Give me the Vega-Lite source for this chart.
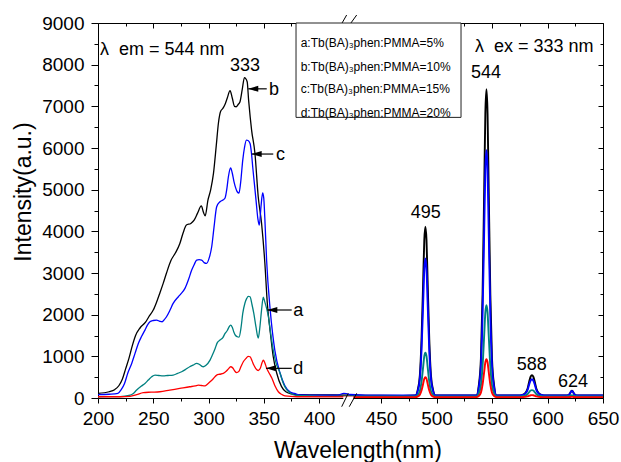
{
  "$schema": "https://vega.github.io/schema/vega-lite/v6.json",
  "width": 505,
  "height": 375,
  "autosize": {"type": "none"},
  "padding": {"left": 98, "top": 23, "right": 18, "bottom": 64},
  "background": "white",
  "config": {
    "view": {"stroke": null},
    "font": "Liberation Sans, DejaVu Sans, sans-serif",
    "axis": {"domainColor": "black", "tickColor": "black", "labelColor": "black", "titleColor": "black", "grid": false, "labelFont": "Liberation Sans", "titleFont": "Liberation Sans", "labelFontSize": 19, "titleFontSize": 23, "titleFontWeight": "normal", "domainWidth": 1, "tickWidth": 1, "labelFlush": false, "labelOverlap": false, "format": "d"}
  },
  "datasets": {
    "left": [
      {"s":"b","x":200,"y":110},{"s":"b","x":210,"y":150},{"s":"b","x":215,"y":200},{"s":"b","x":219,"y":300},{"s":"b","x":222,"y":450},{"s":"b","x":225,"y":700},{"s":"b","x":228,"y":950},{"s":"b","x":231,"y":1250},{"s":"b","x":234,"y":1500},{"s":"b","x":238,"y":1680},{"s":"b","x":243,"y":1820},{"s":"b","x":246,"y":1950},{"s":"b","x":250,"y":2110},{"s":"b","x":253,"y":2300},{"s":"b","x":256,"y":2520},{"s":"b","x":259,"y":2750},{"s":"b","x":262,"y":3000},{"s":"b","x":266,"y":3300},{"s":"b","x":270,"y":3480},{"s":"b","x":274,"y":3700},{"s":"b","x":277,"y":3960},{"s":"b","x":280,"y":4150},{"s":"b","x":284,"y":4190},{"s":"b","x":287,"y":4270},{"s":"b","x":290,"y":4430},{"s":"b","x":293.5,"y":4610},{"s":"b","x":295.5,"y":4450},{"s":"b","x":297,"y":4370},{"s":"b","x":299.5,"y":4750},{"s":"b","x":302,"y":5000},{"s":"b","x":304.5,"y":5390},{"s":"b","x":307,"y":6050},{"s":"b","x":309,"y":6600},{"s":"b","x":311,"y":6880},{"s":"b","x":313,"y":6950},{"s":"b","x":315,"y":7050},{"s":"b","x":317,"y":7200},{"s":"b","x":319.5,"y":7375},{"s":"b","x":321.5,"y":7200},{"s":"b","x":323.5,"y":7000},{"s":"b","x":325,"y":6990},{"s":"b","x":327,"y":7050},{"s":"b","x":328.5,"y":7110},{"s":"b","x":330.5,"y":7400},{"s":"b","x":332.5,"y":7690},{"s":"b","x":335,"y":7590},{"s":"b","x":336.3,"y":7150},{"s":"b","x":337.7,"y":6750},{"s":"b","x":339,"y":6430},{"s":"b","x":342,"y":5880},{"s":"b","x":345,"y":4830},{"s":"b","x":348,"y":4200},{"s":"b","x":351,"y":3240},{"s":"b","x":353.2,"y":2280},{"s":"b","x":355.7,"y":1630},{"s":"b","x":358.6,"y":990},{"s":"b","x":361.7,"y":600},{"s":"b","x":366,"y":280},{"s":"b","x":370,"y":150},{"s":"b","x":375,"y":100},{"s":"b","x":380,"y":80},{"s":"b","x":400,"y":75},{"s":"b","x":425,"y":70},
      {"s":"c","x":200,"y":80},{"s":"c","x":210,"y":90},{"s":"c","x":218,"y":110},{"s":"c","x":221,"y":200},{"s":"c","x":224,"y":350},{"s":"c","x":227,"y":600},{"s":"c","x":230.5,"y":830},{"s":"c","x":233.5,"y":1070},{"s":"c","x":236.5,"y":1310},{"s":"c","x":239.5,"y":1480},{"s":"c","x":242.5,"y":1630},{"s":"c","x":245,"y":1760},{"s":"c","x":247,"y":1830},{"s":"c","x":250,"y":1860},{"s":"c","x":253,"y":1870},{"s":"c","x":256,"y":1840},{"s":"c","x":258,"y":1830},{"s":"c","x":260,"y":1880},{"s":"c","x":262,"y":1950},{"s":"c","x":265,"y":2100},{"s":"c","x":268,"y":2270},{"s":"c","x":272.7,"y":2430},{"s":"c","x":275,"y":2500},{"s":"c","x":278.7,"y":2630},{"s":"c","x":282,"y":2850},{"s":"c","x":284.8,"y":3070},{"s":"c","x":287,"y":3200},{"s":"c","x":289.3,"y":3310},{"s":"c","x":291.5,"y":3320},{"s":"c","x":293.8,"y":3310},{"s":"c","x":296,"y":3250},{"s":"c","x":298.3,"y":3230},{"s":"c","x":300.5,"y":3350},{"s":"c","x":302.9,"y":3630},{"s":"c","x":305,"y":4100},{"s":"c","x":307.4,"y":4590},{"s":"c","x":310.4,"y":4710},{"s":"c","x":313,"y":4750},{"s":"c","x":315,"y":4800},{"s":"c","x":316.5,"y":5000},{"s":"c","x":318,"y":5310},{"s":"c","x":320,"y":5520},{"s":"c","x":321.5,"y":5400},{"s":"c","x":323,"y":5200},{"s":"c","x":324.5,"y":5050},{"s":"c","x":326,"y":4950},{"s":"c","x":327.6,"y":4920},{"s":"c","x":329,"y":5150},{"s":"c","x":331,"y":5710},{"s":"c","x":332.5,"y":6000},{"s":"c","x":334.3,"y":6190},{"s":"c","x":335.8,"y":6180},{"s":"c","x":337.6,"y":6110},{"s":"c","x":339,"y":5850},{"s":"c","x":340,"y":5550},{"s":"c","x":341.5,"y":5150},{"s":"c","x":343,"y":4750},{"s":"c","x":344.7,"y":4300},{"s":"c","x":346,"y":4150},{"s":"c","x":347.5,"y":4590},{"s":"c","x":349,"y":4920},{"s":"c","x":350,"y":4800},{"s":"c","x":351,"y":4300},{"s":"c","x":352.6,"y":3300},{"s":"c","x":355.7,"y":2150},{"s":"c","x":358,"y":1550},{"s":"c","x":360,"y":1150},{"s":"c","x":364.7,"y":600},{"s":"c","x":369,"y":300},{"s":"c","x":374,"y":140},{"s":"c","x":378,"y":110},{"s":"c","x":382,"y":75},{"s":"c","x":400,"y":70},{"s":"c","x":415,"y":70},{"s":"c","x":420,"y":110},{"s":"c","x":425,"y":80},
      {"s":"a","x":200,"y":30},{"s":"a","x":220,"y":35},{"s":"a","x":228,"y":60},{"s":"a","x":232,"y":110},{"s":"a","x":235,"y":190},{"s":"a","x":239,"y":280},{"s":"a","x":242.5,"y":350},{"s":"a","x":245.5,"y":430},{"s":"a","x":248.6,"y":510},{"s":"a","x":251.6,"y":550},{"s":"a","x":255,"y":540},{"s":"a","x":259,"y":530},{"s":"a","x":263,"y":540},{"s":"a","x":268,"y":550},{"s":"a","x":272,"y":590},{"s":"a","x":275.7,"y":630},{"s":"a","x":279,"y":680},{"s":"a","x":283,"y":750},{"s":"a","x":286,"y":790},{"s":"a","x":289.3,"y":830},{"s":"a","x":291.5,"y":810},{"s":"a","x":293.5,"y":770},{"s":"a","x":295.3,"y":750},{"s":"a","x":297.5,"y":780},{"s":"a","x":301.4,"y":910},{"s":"a","x":303.5,"y":1030},{"s":"a","x":306,"y":1190},{"s":"a","x":308,"y":1330},{"s":"a","x":310.4,"y":1390},{"s":"a","x":313,"y":1450},{"s":"a","x":315,"y":1550},{"s":"a","x":317,"y":1620},{"s":"a","x":318.5,"y":1700},{"s":"a","x":320,"y":1750},{"s":"a","x":321.5,"y":1700},{"s":"a","x":323,"y":1580},{"s":"a","x":324.5,"y":1500},{"s":"a","x":326,"y":1470},{"s":"a","x":327.6,"y":1460},{"s":"a","x":329.5,"y":1700},{"s":"a","x":331,"y":2030},{"s":"a","x":333,"y":2280},{"s":"a","x":334.6,"y":2390},{"s":"a","x":336,"y":2440},{"s":"a","x":337.6,"y":2430},{"s":"a","x":339.3,"y":2250},{"s":"a","x":341,"y":2030},{"s":"a","x":343,"y":1700},{"s":"a","x":345,"y":1440},{"s":"a","x":346.5,"y":1700},{"s":"a","x":348,"y":2110},{"s":"a","x":349.6,"y":2420},{"s":"a","x":351,"y":2300},{"s":"a","x":352.6,"y":2150},{"s":"a","x":354.2,"y":1950},{"s":"a","x":356,"y":1600},{"s":"a","x":358.6,"y":1150},{"s":"a","x":361,"y":850},{"s":"a","x":364.7,"y":600},{"s":"a","x":368,"y":330},{"s":"a","x":373.8,"y":120},{"s":"a","x":380,"y":60},{"s":"a","x":400,"y":40},{"s":"a","x":425,"y":40},
      {"s":"d","x":200,"y":30},{"s":"d","x":220,"y":30},{"s":"d","x":229,"y":40},{"s":"d","x":235,"y":80},{"s":"d","x":241,"y":130},{"s":"d","x":248,"y":140},{"s":"d","x":256,"y":150},{"s":"d","x":265,"y":190},{"s":"d","x":274,"y":230},{"s":"d","x":283,"y":270},{"s":"d","x":288,"y":290},{"s":"d","x":290.8,"y":310},{"s":"d","x":293.5,"y":300},{"s":"d","x":296.8,"y":290},{"s":"d","x":299,"y":330},{"s":"d","x":301.4,"y":390},{"s":"d","x":304.5,"y":470},{"s":"d","x":307.4,"y":550},{"s":"d","x":310,"y":570},{"s":"d","x":313.4,"y":590},{"s":"d","x":316,"y":640},{"s":"d","x":318,"y":700},{"s":"d","x":320,"y":750},{"s":"d","x":322,"y":720},{"s":"d","x":323.7,"y":650},{"s":"d","x":325.4,"y":610},{"s":"d","x":327.5,"y":640},{"s":"d","x":329.5,"y":760},{"s":"d","x":331.5,"y":870},{"s":"d","x":334,"y":950},{"s":"d","x":335.8,"y":1000},{"s":"d","x":337.6,"y":990},{"s":"d","x":339.3,"y":900},{"s":"d","x":341,"y":790},{"s":"d","x":343,"y":700},{"s":"d","x":345,"y":660},{"s":"d","x":347,"y":720},{"s":"d","x":348.5,"y":850},{"s":"d","x":349.6,"y":910},{"s":"d","x":351,"y":840},{"s":"d","x":352.6,"y":720},{"s":"d","x":354.2,"y":630},{"s":"d","x":355.7,"y":560},{"s":"d","x":357.3,"y":480},{"s":"d","x":360,"y":300},{"s":"d","x":363.2,"y":150},{"s":"d","x":366,"y":90},{"s":"d","x":369.2,"y":50},{"s":"d","x":380,"y":30},{"s":"d","x":425,"y":25}
    ],
    "right": [
      {"x":425,"a":40,"b":60,"c":80,"d":20},{"x":440,"a":40,"b":55,"c":60,"d":20},{"x":470,"a":40,"b":50,"c":60,"d":20},{"x":481,"a":40,"b":60,"c":60,"d":20},
      {"x":483,"a":72,"b":182,"c":159,"d":34},{"x":485,"a":166,"b":546,"c":455,"d":78},{"x":486.5,"a":387,"b":1397,"c":1146,"d":178},{"x":488,"a":754,"b":2814,"c":2297,"d":346},{"x":489,"a":1006,"b":3786,"c":3087,"d":462},{"x":490,"a":1090,"b":4110,"c":3350,"d":500},{"x":491,"a":1006,"b":3786,"c":3087,"d":462},{"x":492,"a":754,"b":2814,"c":2297,"d":346},{"x":493.5,"a":387,"b":1397,"c":1146,"d":178},{"x":495,"a":166,"b":546,"c":455,"d":78},{"x":497,"a":72,"b":182,"c":159,"d":34},{"x":499,"a":40,"b":60,"c":60,"d":20},
      {"x":536,"a":40,"b":60,"c":60,"d":20},{"x":538,"a":106,"b":281,"c":237,"d":47},{"x":540,"a":303,"b":942,"c":767,"d":129},{"x":541.5,"a":763,"b":2486,"c":2004,"d":320},{"x":543,"a":1529,"b":5058,"c":4065,"d":639},{"x":544,"a":2055,"b":6822,"c":5479,"d":857},{"x":545,"a":2230,"b":7410,"c":5950,"d":930},{"x":546,"a":2055,"b":6822,"c":5479,"d":857},{"x":547,"a":1529,"b":5058,"c":4065,"d":639},{"x":548.5,"a":763,"b":2486,"c":2004,"d":320},{"x":550,"a":303,"b":942,"c":767,"d":129},{"x":552,"a":106,"b":281,"c":237,"d":47},{"x":554,"a":40,"b":60,"c":60,"d":20},
      {"x":575,"a":40,"b":60,"c":60,"d":20},{"x":577.5,"a":45,"b":75,"c":72,"d":22},{"x":580,"a":58,"b":119,"c":107,"d":26},{"x":582,"a":90,"b":222,"c":189,"d":37},{"x":583.5,"a":142,"b":393,"c":325,"d":54},{"x":584.8,"a":178,"b":511,"c":419,"d":66},{"x":586,"a":190,"b":550,"c":450,"d":70},{"x":587.2,"a":178,"b":511,"c":419,"d":66},{"x":588.5,"a":142,"b":393,"c":325,"d":54},{"x":590,"a":90,"b":222,"c":189,"d":37},{"x":592,"a":58,"b":119,"c":107,"d":26},{"x":594.5,"a":45,"b":75,"c":72,"d":22},{"x":597,"a":40,"b":60,"c":60,"d":20},
      {"x":617,"a":40,"b":60,"c":60,"d":20},{"x":618,"a":41,"b":63,"c":63,"d":20},{"x":619,"a":43,"b":74,"c":73,"d":21},{"x":620,"a":48,"b":98,"c":96,"d":23},{"x":620.8,"a":57,"b":138,"c":135,"d":25},{"x":621.4,"a":63,"b":166,"c":161,"d":27},{"x":622,"a":65,"b":175,"c":170,"d":28},{"x":622.6,"a":63,"b":166,"c":161,"d":27},{"x":623.2,"a":57,"b":138,"c":135,"d":25},{"x":624,"a":48,"b":98,"c":96,"d":23},{"x":625,"a":43,"b":74,"c":73,"d":21},{"x":626,"a":41,"b":63,"c":63,"d":20},{"x":627,"a":40,"b":60,"c":60,"d":20},{"x":650,"a":40,"b":60,"c":60,"d":20}
    ],
    "labelsLeft": [
      {"x":201.8,"y":8352,"t":"λ\u00a0\u00a0em = 544 nm"},
      {"x":534.7,"y":8432,"t":"λ\u00a0\u00a0ex = 333 nm"},
      {"x":354.7,"y":7400,"t":"b"},
      {"x":361.1,"y":5835,"t":"c"},
      {"x":376.8,"y":2092,"t":"a"},
      {"x":376.8,"y":692,"t":"d"}
    ],
    "labelsCenter": [
      {"x":333,"y":7968,"t":"333"},
      {"x":490.3,"y":4440,"t":"495"},
      {"x":544.6,"y":7790,"t":"544"},
      {"x":585.8,"y":790,"t":"588"},
      {"x":623,"y":396,"t":"624"}
    ],
    "arrows": [
      {"x":336,"x2":352.7,"y":7420},
      {"x":339.1,"x2":358.6,"y":5855},
      {"x":353.2,"x2":375.3,"y":2112},
      {"x":352,"x2":375.3,"y":712}
    ],
    "legendBox": [{"x":379.2,"x2":522.1,"y":6735,"y2":9000}],
    "legendText": [
      {"x":383.4,"y":8513,"t":"a:Tb(BA)₃phen:PMMA=5%"},
      {"x":383.4,"y":7951,"t":"b:Tb(BA)₃phen:PMMA=10%"},
      {"x":383.4,"y":7409,"t":"c:Tb(BA)₃phen:PMMA=15%"},
      {"x":383.4,"y":6847,"t":"d:Tb(BA)₃phen:PMMA=20%"}
    ],
    "gaps": [{"x":419.6,"x2":427.7,"y":0},{"x":419.6,"x2":427.7,"y":9000}],
    "slashes": [
      {"x":416.9,"x2":422.3,"y":8911,"y2":9192},
      {"x":423.6,"x2":430.4,"y":8911,"y2":9192},
      {"x":418.3,"x2":423.6,"y":-209,"y2":113},
      {"x":424.4,"x2":430.4,"y":-209,"y2":113}
    ],
    "dummy": [{"x":300,"y":100}]
  },
  "layer": [
    {
      "layer": [
        {
          "data": {"name": "left"},
          "mark": {"type": "line", "strokeWidth": 1.3, "interpolate": "monotone"},
          "encoding": {
            "x": {"field": "x", "type": "quantitative", "scale": {"domain": [200, 400, 450, 650], "range": [0, 221, 283, 505], "nice": false, "zero": false},
                  "axis": {"orient": "bottom", "values": [200, 250, 300, 350, 400, 450, 500, 550, 600, 650], "tickSize": 5, "labelPadding": 6, "title": "Wavelength(nm)", "titleX": 259.5, "titleY": 59, "titleBaseline": "alphabetic"}},
            "y": {"field": "y", "type": "quantitative", "scale": {"domain": [0, 9000], "nice": false, "zero": false},
                  "axis": {"orient": "left", "values": [0, 1000, 2000, 3000, 4000, 5000, 6000, 7000, 8000, 9000], "tickSize": 7, "labelPadding": 7, "title": "Intensity(a.u.)", "titleX": -63, "titleY": 168.5, "titleBaseline": "bottom"}},
            "color": {"field": "s", "type": "nominal", "scale": {"domain": ["a", "b", "c", "d"], "range": ["#008080", "#000000", "#0000ff", "#ff0000"]}, "legend": null}
          }
        },
        {
          "data": {"name": "right"},
          "transform": [{"fold": ["b", "c", "a", "d"], "as": ["s", "y"]}],
          "mark": {"type": "line", "strokeWidth": 1.9, "interpolate": "monotone"},
          "encoding": {
            "x": {"field": "x", "type": "quantitative", "scale": {"domain": [200, 400, 450, 650], "range": [0, 221, 283, 505], "nice": false, "zero": false}},
            "y": {"field": "y", "type": "quantitative", "scale": {"domain": [0, 9000], "nice": false, "zero": false}},
            "color": {"field": "s", "type": "nominal", "scale": {"domain": ["a", "b", "c", "d"], "range": ["#008080", "#000000", "#0000ff", "#ff0000"]}, "legend": null}
          }
        },
        {
          "data": {"name": "gaps"},
          "mark": {"type": "rule", "color": "white", "strokeWidth": 3},
          "encoding": {
            "x": {"field": "x", "type": "quantitative", "scale": {"domain": [200, 400, 450, 650], "range": [0, 221, 283, 505], "nice": false, "zero": false}},
            "x2": {"field": "x2"},
            "y": {"field": "y", "type": "quantitative", "scale": {"domain": [0, 9000], "nice": false, "zero": false}}
          }
        },
        {
          "data": {"name": "slashes"},
          "mark": {"type": "rule", "color": "black", "strokeWidth": 1},
          "encoding": {
            "x": {"field": "x", "type": "quantitative", "scale": {"domain": [200, 400, 450, 650], "range": [0, 221, 283, 505], "nice": false, "zero": false}},
            "x2": {"field": "x2"},
            "y": {"field": "y", "type": "quantitative", "scale": {"domain": [0, 9000], "nice": false, "zero": false}},
            "y2": {"field": "y2"}
          }
        },
        {
          "data": {"name": "legendBox"},
          "mark": {"type": "rect", "fill": "white", "stroke": "#222222", "strokeWidth": 1},
          "encoding": {
            "x": {"field": "x", "type": "quantitative", "scale": {"domain": [200, 400, 450, 650], "range": [0, 221, 283, 505], "nice": false, "zero": false}},
            "x2": {"field": "x2"},
            "y": {"field": "y", "type": "quantitative", "scale": {"domain": [0, 9000], "nice": false, "zero": false}},
            "y2": {"field": "y2"}
          }
        },
        {
          "data": {"name": "legendText"},
          "mark": {"type": "text", "align": "left", "baseline": "middle", "fontSize": 12, "font": "Liberation Sans, DejaVu Sans", "color": "black"},
          "encoding": {
            "x": {"field": "x", "type": "quantitative", "scale": {"domain": [200, 400, 450, 650], "range": [0, 221, 283, 505], "nice": false, "zero": false}},
            "y": {"field": "y", "type": "quantitative", "scale": {"domain": [0, 9000], "nice": false, "zero": false}},
            "text": {"field": "t"}
          }
        },
        {
          "data": {"name": "labelsLeft"},
          "mark": {"type": "text", "align": "left", "baseline": "middle", "fontSize": 18, "font": "Liberation Sans, DejaVu Sans", "color": "black"},
          "encoding": {
            "x": {"field": "x", "type": "quantitative", "scale": {"domain": [200, 400, 450, 650], "range": [0, 221, 283, 505], "nice": false, "zero": false}},
            "y": {"field": "y", "type": "quantitative", "scale": {"domain": [0, 9000], "nice": false, "zero": false}},
            "text": {"field": "t"}
          }
        },
        {
          "data": {"name": "labelsCenter"},
          "mark": {"type": "text", "align": "center", "baseline": "middle", "fontSize": 18, "font": "Liberation Sans, DejaVu Sans", "color": "black"},
          "encoding": {
            "x": {"field": "x", "type": "quantitative", "scale": {"domain": [200, 400, 450, 650], "range": [0, 221, 283, 505], "nice": false, "zero": false}},
            "y": {"field": "y", "type": "quantitative", "scale": {"domain": [0, 9000], "nice": false, "zero": false}},
            "text": {"field": "t"}
          }
        },
        {
          "data": {"name": "arrows"},
          "mark": {"type": "rule", "color": "black", "strokeWidth": 1.2},
          "encoding": {
            "x": {"field": "x", "type": "quantitative", "scale": {"domain": [200, 400, 450, 650], "range": [0, 221, 283, 505], "nice": false, "zero": false}},
            "x2": {"field": "x2"},
            "y": {"field": "y", "type": "quantitative", "scale": {"domain": [0, 9000], "nice": false, "zero": false}}
          }
        },
        {
          "data": {"name": "arrows"},
          "mark": {"type": "point", "shape": "M0,0L2,-0.6L2,0.6Z", "size": 100, "filled": true, "color": "black", "opacity": 1},
          "encoding": {
            "x": {"field": "x", "type": "quantitative", "scale": {"domain": [200, 400, 450, 650], "range": [0, 221, 283, 505], "nice": false, "zero": false}},
            "y": {"field": "y", "type": "quantitative", "scale": {"domain": [0, 9000], "nice": false, "zero": false}}
          }
        }
      ]
    },
    {
      "data": {"name": "dummy"},
      "mark": {"type": "point", "opacity": 0},
      "encoding": {
        "x": {"field": "x", "type": "quantitative", "scale": {"domain": [200, 400, 450, 650], "range": [0, 221, 283, 505], "nice": false, "zero": false},
              "axis": {"orient": "bottom", "values": [225, 275, 325, 375, 475, 525, 575, 625], "tickSize": 3, "labels": false, "domain": false, "title": null}},
        "y": {"field": "y", "type": "quantitative", "scale": {"domain": [0, 9000], "nice": false, "zero": false},
              "axis": {"orient": "left", "values": [500, 1500, 2500, 3500, 4500, 5500, 6500, 7500, 8500], "tickSize": 4, "labels": false, "domain": false, "title": null}}
      }
    },
    {
      "data": {"name": "dummy"},
      "mark": {"type": "point", "opacity": 0},
      "encoding": {
        "x": {"field": "x", "type": "quantitative", "scale": {"domain": [200, 400, 450, 650], "range": [0, 221, 283, 505], "nice": false, "zero": false},
              "axis": {"orient": "top", "values": [200, 250, 300, 350, 400, 450, 500, 550, 600, 650], "tickSize": -5, "labels": false, "domain": true, "title": null}},
        "y": {"field": "y", "type": "quantitative", "scale": {"domain": [0, 9000], "nice": false, "zero": false},
              "axis": {"orient": "right", "values": [0, 1000, 2000, 3000, 4000, 5000, 6000, 7000, 8000, 9000], "tickSize": -5, "labels": false, "domain": true, "title": null}}
      }
    },
    {
      "data": {"name": "dummy"},
      "mark": {"type": "point", "opacity": 0},
      "encoding": {
        "x": {"field": "x", "type": "quantitative", "scale": {"domain": [200, 400, 450, 650], "range": [0, 221, 283, 505], "nice": false, "zero": false},
              "axis": {"orient": "top", "values": [225, 275, 325, 375, 475, 525, 575, 625], "tickSize": -3, "labels": false, "domain": false, "title": null}},
        "y": {"field": "y", "type": "quantitative", "scale": {"domain": [0, 9000], "nice": false, "zero": false},
              "axis": {"orient": "right", "values": [500, 1500, 2500, 3500, 4500, 5500, 6500, 7500, 8500], "tickSize": -3, "labels": false, "domain": false, "title": null}}
      }
    }
  ],
  "resolve": {"axis": {"x": "independent", "y": "independent"}}
}
